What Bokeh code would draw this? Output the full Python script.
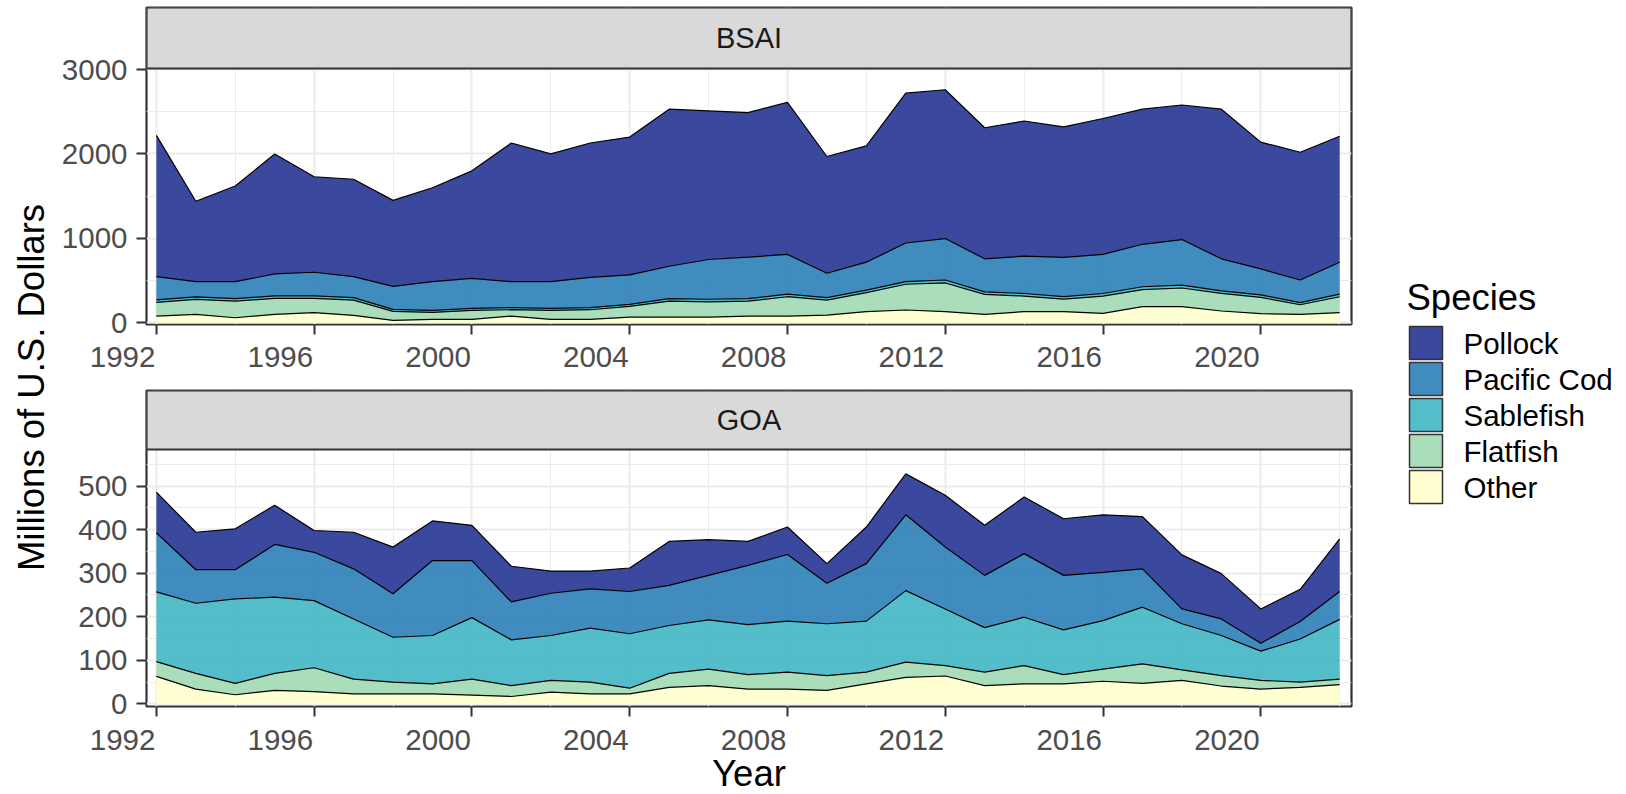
import math
from bokeh.plotting import figure
from bokeh.models import ColumnDataSource, Range1d, FixedTicker, Label, BoxAnnotation
from bokeh.layouts import row, column
from bokeh.embed import file_html
from bokeh.resources import INLINE
from bokeh.core.properties import value

# ---------------- data ----------------
years = [1992, 1993, 1994, 1995, 1996, 1997, 1998, 1999, 2000, 2001, 2002,
         2003, 2004, 2005, 2006, 2007, 2008, 2009, 2010, 2011, 2012, 2013,
         2014, 2015, 2016, 2017, 2018, 2019, 2020, 2021, 2022]

species_bottom_to_top = ["Other", "Flatfish", "Sablefish", "Pacific Cod", "Pollock"]
species_legend = ["Pollock", "Pacific Cod", "Sablefish", "Flatfish", "Other"]
species_colors = {"Pollock": "#253494", "Pacific Cod": "#2C7FB8", "Sablefish": "#41B6C4",
                  "Flatfish": "#A1DAB4", "Other": "#FFFFCC"}

bsai_pollock = [1673, 953, 1133, 1421, 1131, 1153, 1019, 1113, 1273, 1643, 1513, 1591, 1633, 1860, 1760,
                1712, 1800, 1383, 1377, 1775, 1762, 1552, 1600, 1546, 1610, 1600, 1594, 1772, 1502, 1513, 1492]
bsai_cod = [276, 180, 200, 260, 280, 248, 271, 339, 355, 307, 315, 359, 348, 383, 471,
            491, 471, 288, 331, 458, 491, 391, 443, 463, 463, 503, 539, 379, 307, 268, 379]
bsai_sablefish = [30, 30, 30, 30, 30, 30, 25, 25, 25, 25, 25, 25, 25, 30, 30,
                  30, 30, 30, 30, 30, 35, 30, 30, 30, 30, 35, 35, 30, 30, 25, 30]
bsai_flatfish = [161, 177, 197, 189, 169, 181, 107, 83, 107, 75, 107, 115, 126, 189, 181,
                 177, 229, 177, 225, 305, 340, 237, 185, 149, 205, 200, 220, 209, 193, 114, 189]
bsai_other = [80, 100, 60, 100, 120, 88, 28, 40, 40, 80, 40, 40, 68, 68, 68,
              80, 80, 92, 132, 152, 132, 100, 132, 132, 112, 192, 192, 140, 108, 100, 120]

goa_pollock = [93, 86, 94, 90, 50, 84, 107, 91, 81, 82, 51, 41, 54, 101, 82,
               55, 63, 45, 84, 94, 119, 115, 130, 130, 132, 120, 124, 104, 79, 74, 121]
goa_cod = [136, 77, 67, 121, 111, 115, 100, 172, 131, 87, 97, 90, 97, 92, 102,
           136, 153, 93, 132, 174, 142, 120, 146, 125, 111, 88, 34, 38, 18, 40, 64]
goa_sablefish = [160, 161, 194, 175, 154, 138, 103, 111, 141, 105, 103, 124, 125, 110, 113,
                 115, 117, 119, 117, 164, 130, 102, 111, 103, 111, 130, 106, 92, 67, 99, 137]
goa_flatfish = [34, 36, 26, 39, 55, 34, 27, 23, 37, 25, 27, 27, 13, 32, 38,
                33, 39, 34, 27, 35, 24, 31, 42, 21, 28, 45, 24, 24, 20, 12, 13]
goa_other = [63, 34, 21, 31, 28, 23, 23, 23, 20, 17, 27, 23, 23, 38, 42,
             34, 34, 31, 46, 61, 64, 42, 46, 46, 52, 47, 54, 41, 34, 38, 44]

x_major = [1992, 1996, 2000, 2004, 2008, 2012, 2016, 2020]
x_minor = [1994, 1998, 2002, 2006, 2010, 2014, 2018, 2022]
x_tick_labels = ["1992", "1996", "2000", "2004", "2008", "2012", "2016", "2020"]
bsai_y_major = [0, 1000, 2000, 3000]
bsai_y_minor = [500, 1500, 2500]
goa_y_major = [0, 100, 200, 300, 400, 500]
goa_y_minor = [50, 150, 250, 350, 450, 550]

panel_names = ["BSAI", "GOA"]

# ---------------- layout constants ----------------
FONT = "Liberation Sans"
TICK_FS = "29.5px"
STRIP_FS = "29px"
LEG_FS = "29.5px"
TITLE_FS = "36.5px"
X_START, X_END = 1991.75, 2022.30
FRAME_W = 1205
YT_W = 56
LEFT_B, RIGHT_B = 90, 5
COL_W = LEFT_B + FRAME_W + RIGHT_B
K = FRAME_W / (X_END - X_START)
TOTAL_H = 794
LEG_W = 262

stack_keys = ["other", "flatfish", "sablefish", "cod", "pollock"]
stack_colors = [species_colors[s] for s in species_bottom_to_top]


def make_source(pollock, cod, sablefish, flatfish, other):
    return ColumnDataSource(dict(year=years, pollock=pollock, cod=cod, sablefish=sablefish,
                                 flatfish=flatfish, other=other))


def bare(fig):
    fig.xgrid.visible = False
    fig.ygrid.visible = False
    fig.outline_line_color = None


def make_panel(src, name, ylo, yhi, ymaj, ymin_ticks, strip_h, panel_h, top_b, bottom_b):
    u = (yhi - ylo) / panel_h
    ytop = yhi + strip_h * u
    p = figure(width=COL_W, height=top_b + strip_h + panel_h + bottom_b,
               x_range=Range1d(X_START, X_END), y_range=Range1d(ylo, ytop),
               output_backend="svg", toolbar_location=None, frame_align=False,
               min_border_left=LEFT_B, min_border_right=RIGHT_B,
               min_border_top=top_b, min_border_bottom=bottom_b)
    p.varea_stack(stackers=stack_keys, x="year", color=stack_colors, fill_alpha=0.9, source=src)
    p.vline_stack(stackers=stack_keys, x="year", color="black", line_width=1.2, source=src)

    xt = FixedTicker(ticks=x_major, minor_ticks=x_minor)
    yt = FixedTicker(ticks=ymaj, minor_ticks=ymin_ticks)
    p.xaxis.ticker = xt
    p.yaxis.ticker = yt
    p.xgrid.ticker = xt
    p.ygrid.ticker = yt
    for g in (p.xgrid, p.ygrid):
        g.grid_line_color = "#EBEBEB"
        g.grid_line_width = 2
        g.minor_grid_line_color = "#EBEBEB"
        g.minor_grid_line_width = 1

    for ax in (p.xaxis, p.yaxis):
        ax.axis_line_color = None
        ax.major_tick_out = 10
        ax.major_tick_in = 0
        ax.major_tick_line_color = "#333333"
        ax.major_tick_line_width = 2
        ax.minor_tick_line_color = None
    p.xaxis.major_label_text_font_size = "1px"
    p.xaxis.major_label_text_color = None
    p.xaxis.major_label_standoff = 0
    p.yaxis.major_label_text_font_size = TICK_FS
    p.yaxis.major_label_text_font = FONT
    p.yaxis.major_label_text_color = "#4D4D4D"
    p.yaxis.major_label_standoff = 9

    p.outline_line_color = "#333333"
    p.outline_line_width = 2.2
    p.outline_line_alpha = 1
    p.background_fill_color = "white"

    # facet strip
    p.add_layout(BoxAnnotation(bottom=yhi, fill_color="#D9D9D9", fill_alpha=1,
                               line_color="#333333", line_width=2.2, line_alpha=1))
    p.add_layout(Label(x=(X_START + X_END) / 2, y=yhi + strip_h * u / 2, text=name,
                       text_align="center", text_baseline="middle",
                       text_font=FONT, text_font_size=STRIP_FS, text_color="#1A1A1A"))
    return p


def make_xlabels(h, ypos):
    f = figure(width=COL_W, height=h,
               x_range=Range1d(X_START - LEFT_B / K, X_END + RIGHT_B / K),
               y_range=Range1d(0, h), output_backend="svg", toolbar_location=None,
               frame_align=False, x_axis_location=None, y_axis_location=None, min_border=0)
    bare(f)
    f.text(x=x_major, y=[ypos] * len(x_major), text=x_tick_labels, text_align="right",
           text_baseline="middle", text_font=value(FONT), text_font_size=TICK_FS,
           text_color="#4D4D4D", x_offset=-1)
    return f


bsai_src = make_source(bsai_pollock, bsai_cod, bsai_sablefish, bsai_flatfish, bsai_other)
goa_src = make_source(goa_pollock, goa_cod, goa_sablefish, goa_flatfish, goa_other)

# BSAI: canvas 0..340 (strip 7..68, panel 68..324)
p1 = make_panel(bsai_src, panel_names[0], -20, 3012, bsai_y_major, bsai_y_minor, 61, 256, 7, 16)
lab1 = make_xlabels(49, 32.5)        # 340..389
# GOA: canvas 389..722 (strip 390..449, panel 449..706)
p2 = make_panel(goa_src, panel_names[1], -6, 584, goa_y_major, goa_y_minor, 59, 257, 1, 16)
lab2 = make_xlabels(72, 55)          # 722..794
lab2.add_layout(Label(x=(X_START + X_END) / 2, y=21, text="Year",
                      text_align="center", text_baseline="middle",
                      text_font=FONT, text_font_size=TITLE_FS, text_color="black"))

# y-axis title
ytf = figure(width=YT_W, height=TOTAL_H, x_range=Range1d(0, YT_W), y_range=Range1d(0, TOTAL_H),
             output_backend="svg", toolbar_location=None, frame_align=False,
             x_axis_location=None, y_axis_location=None, min_border=0)
bare(ytf)
ytf.add_layout(Label(x=31, y=TOTAL_H - 387, text="Millions of U.S. Dollars", angle=math.pi / 2,
                     text_align="center", text_baseline="middle",
                     text_font=FONT, text_font_size=TITLE_FS, text_color="black"))

# legend
lf = figure(width=LEG_W, height=TOTAL_H, x_range=Range1d(0, LEG_W), y_range=Range1d(0, TOTAL_H),
            output_backend="svg", toolbar_location=None, frame_align=False,
            x_axis_location=None, y_axis_location=None, min_border=0)
bare(lf)
key_pitch, key_size, first_top = 36, 33, TOTAL_H - 326
key_tops = [first_top - key_pitch * i for i in range(len(species_legend))]
key_bottoms = [t - key_size for t in key_tops]
key_mid = [t - key_size / 2 for t in key_tops]
lf.quad(left=53, right=53 + key_size, top=key_tops, bottom=key_bottoms,
        fill_color=[species_colors[s] for s in species_legend], fill_alpha=0.9,
        line_color="#333333", line_width=1.5)
lf.text(x=[107] * len(species_legend), y=key_mid, text=species_legend,
        text_align="left", text_baseline="middle", text_font=value(FONT),
        text_font_size=LEG_FS, text_color="black")
lf.add_layout(Label(x=50, y=TOTAL_H - 297, text="Species", text_align="left",
                    text_baseline="alphabetic",
                    text_font=FONT, text_font_size=TITLE_FS, text_color="black"))

layout = row(ytf, column(p1, lab1, p2, lab2), lf)

open("out.html", "w").write(file_html(layout, INLINE))
